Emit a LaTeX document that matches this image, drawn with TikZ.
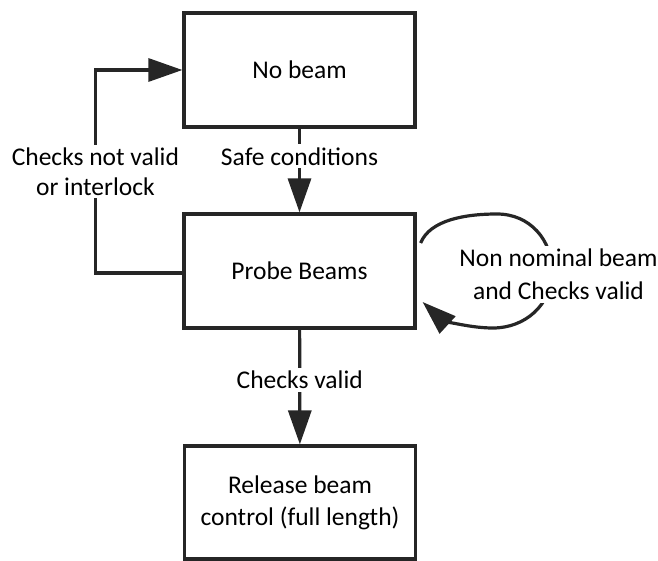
\documentclass[tikz,border=0pt]{standalone}
\usepackage{fontspec}
\setmainfont{Carlito}
\usetikzlibrary{arrows.meta}
\definecolor{ink}{HTML}{262626}
\begin{document}
\begin{tikzpicture}[x=1pt,y=-1pt,
  box/.style={draw=ink, line width=3.2pt, minimum width=231pt, minimum height=114pt,
    inner sep=0pt, align=center, text=black, font=\fontsize{25.5}{32}\selectfont},
  lab/.style={fill=white, align=center, inner sep=3pt, text=black,
    font=\fontsize{25.5}{30}\selectfont},
  conn/.style={draw=ink, line width=3.2pt, -{Triangle[length=34pt,width=23pt]}}]
\useasboundingbox (0,0) rectangle (658,561);
\node[box] (nb) at (299.5,70) {No beam};
\node[box] (pb) at (299.5,271) {Probe Beams};
\node[box, minimum height=113pt] (rb) at (300,502.5) {Release beam\\control (full length)};
\draw[conn] (nb) -- node[lab, pos=0.33] (lsafe) {Safe conditions} (pb);
\draw[conn] (pb) -- node[lab, pos=0.44] (lvalid) {Checks valid} (rb);
\draw[conn] ([yshift=-2pt]pb.west) -- ++(-87,0) |- node[lab, pos=0.25] (lnot) {Checks not valid\\or interlock} (nb.west);
\draw[conn] ([xshift=4pt,yshift=28pt]pb.east)
  .. controls (430,220) and (465,214) .. (497,214)
  .. controls (530,214) and (552,240) .. (552,271)
  .. controls (552,305) and (525,328) .. (493,328)
  .. controls (465,328) and (440,318) .. ([xshift=6pt,yshift=-31pt]pb.east);
\node[lab, font=\fontsize{25.5}{33}\selectfont] (lloop) at (558.5,274.5) {Non nominal beam\\and Checks valid};
\end{tikzpicture}
\end{document}
